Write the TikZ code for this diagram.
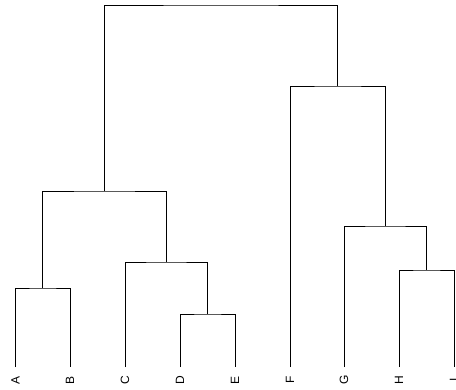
\documentclass[tikz,border=0pt]{standalone}
\usepackage{fontspec}
\setmainfont{Liberation Sans}
\begin{document}
\begin{tikzpicture}[x=1pt,y=-1pt,
  link/.style={draw=black,line width=0.75pt},
  leaflabel/.style={font=\fontsize{12}{14}\selectfont,rotate=90,inner sep=0pt,anchor=center}]
\useasboundingbox (0,0) rectangle (456,389);
% leaves
\foreach \n/\x in {A/15.5,B/70,C/125,D/180,E/235,F/290,G/344,H/399,I/454}{
  \coordinate (\n) at (\x,367);
  \node[leaflabel] (l\n) at (\x,380) {\n};
}
% merge points
\coordinate (AB) at (42.75,288);
\coordinate (DE) at (207.5,314);
\coordinate (CDE) at (166.25,262);
\coordinate (ABCDE) at (104.5,191);
\coordinate (HI) at (426.5,270);
\coordinate (GHI) at (385.25,226);
\coordinate (FGHI) at (337.6,86);
\coordinate (root) at (221,5);
% links
\draw[link] (A) |- (AB) -| (B);
\draw[link] (D) |- (DE) -| (E);
\draw[link] (C) |- (CDE) -| (DE);
\draw[link] (AB) |- (ABCDE) -| (CDE);
\draw[link] (H) |- (HI) -| (I);
\draw[link] (G) |- (GHI) -| (HI);
\draw[link] (F) |- (FGHI) -| (GHI);
\draw[link] (ABCDE) |- (root) -| (FGHI);
\end{tikzpicture}
\end{document}
